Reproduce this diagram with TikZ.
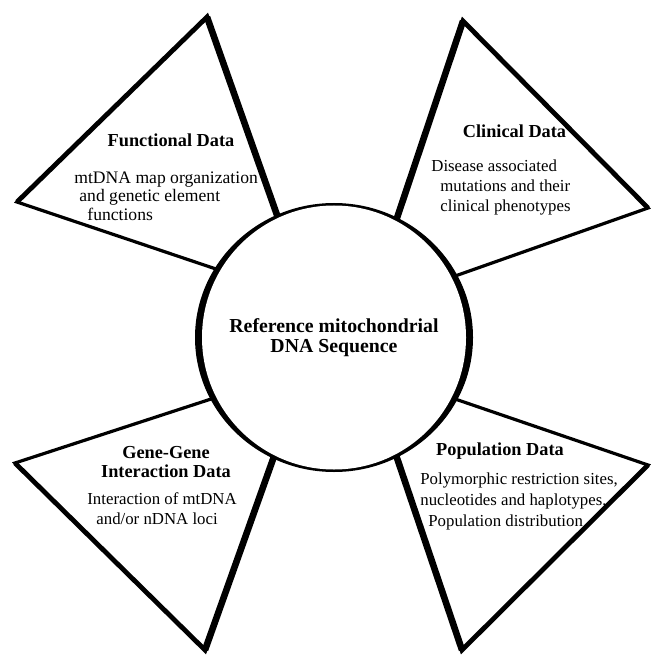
\documentclass[tikz,border=0pt]{standalone}
\usepackage{fontspec}
\setmainfont{Liberation Serif}
\tikzstyle{rim} = [line width=1.6pt, line join=miter]
\tikzstyle{outer} = [line width=2.4pt, line join=miter]
\tikzstyle{heavy} = [line width=3.3pt]
\tikzstyle{title} = [font=\bfseries\fontsize{9.15}{9.7}\selectfont, align=center, inner sep=0pt]
\tikzstyle{blurb} = [font=\fontsize{8.4}{10}\selectfont, align=left, inner sep=0pt, anchor=north west]
\tikzstyle{hub} = [circle, fill=white, minimum size=132pt, inner sep=0pt, align=center, font=\bfseries\fontsize{9.9}{10}\selectfont]

\begin{document}
\begin{tikzpicture}[x=0.5pt, y=-0.5pt]
\useasboundingbox (0,0) rectangle (655,657);
            % Triangle corners (1 = heavy side, a/b = where the sides meet the circle)
            \coordinate (F1) at (207,17);  \coordinate (F2) at (17,202);
            \coordinate (Fa) at (277,215); \coordinate (Fb) at (213,268);
            \coordinate (C1) at (463,21);  \coordinate (C2) at (648,208);
            \coordinate (Ca) at (397,218); \coordinate (Cb) at (458,275);
            \coordinate (G1) at (205,650); \coordinate (G2) at (15,463);
            \coordinate (Ga) at (272,462); \coordinate (Gb) at (208,400);
            \coordinate (P1) at (462,650); \coordinate (P2) at (648,465);
            \coordinate (Pa) at (397,458); \coordinate (Pb) at (458,400);
            \coordinate (Fx) at (intersection of F1--Fa and F2--Fb);
            \coordinate (Cx) at (intersection of C1--Ca and C2--Cb);
            \coordinate (Gx) at (intersection of G1--Ga and G2--Gb);
            \coordinate (Px) at (intersection of P1--Pa and P2--Pb);

            % Triangles
            \foreach \tri in {F,C,G,P} {
                  \draw [rim] (\tri x) -- (\tri1) -- (\tri2) -- cycle;
                  \draw [outer] (\tri x) -- (\tri1) -- (\tri2);
                  \draw [heavy] (\tri x) -- (\tri1);
            }

            % Central circle
            \coordinate (mid) at (334,337.5);
            \fill (mid) ellipse [x radius=139, y radius=134.5];
            \node (RefSeq) [hub] at (mid) {Reference mitochondrial\\DNA Sequence};

            % Labels
            \node (FunctionalTitle) [title, anchor=base] at (171,146.5) {Functional Data};
            \node (FunctionalText) [blurb, font=\fontsize{8.8}{9.25}\selectfont] at (74,171) {mtDNA map organization\\\hspace*{2.5pt}and genetic element\\\hspace*{6.5pt}functions};
            \node (ClinicalTitle) [title, anchor=base] at (514.5,138) {Clinical Data};
            \node (ClinicalText) [blurb] at (431,159.3) {Disease associated\\\hspace*{4.5pt}mutations and their\\\hspace*{4.5pt}clinical phenotypes};
            \node (GeneTitle) [title, anchor=north] at (166,446) {Gene-Gene\\Interaction Data};
            \node (GeneText) [blurb] at (87,492.6) {Interaction of mtDNA\\\hspace*{4.5pt}and/or nDNA loci};
            \node (PopulationTitle) [title, anchor=base] at (500,455) {Population Data};
            \node (PopulationText) [blurb, font=\fontsize{8.4}{10.3}\selectfont] at (420,472.9) {Polymorphic restriction sites,\\nucleotides and haplotypes,\\\hspace*{4pt}Population distribution};
\end{tikzpicture}
\end{document}
